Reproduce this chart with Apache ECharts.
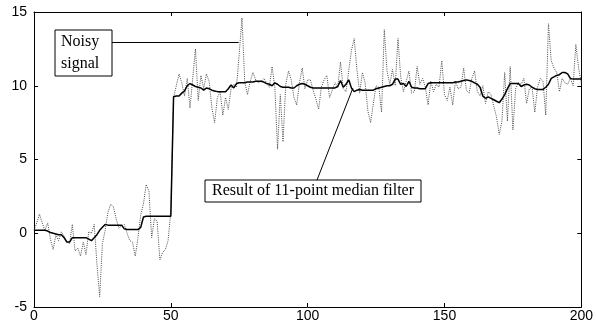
<!DOCTYPE html>
<html><head><meta charset="utf-8">
<script src="https://cdn.jsdelivr.net/npm/echarts@6/dist/echarts.min.js"></script>
<style>html,body{margin:0;padding:0;background:#fff}#c{width:596px;height:324px}</style>
</head><body><div id="c"></div>
<script>
// Noisy signal, sample index 0..200
const noisy = [
  0.2,0.7,1.3,0.7,0.2,0.7,-0.4,-1.1,-0.1,-0.5,
  0.1,-0.2,-0.55,-0.7,0.6,-1.2,-1.0,-1.55,-0.6,-1.45,
  0.1,0.0,0.6,-2.1,-4.3,-0.7,0.2,1.4,1.95,1.8,
  1.0,0.35,0.5,0.6,0.0,-0.5,-0.6,-1.55,-0.3,1.25,
  2.0,3.3,2.85,-0.3,1.0,0.8,-1.8,-1.3,-1.1,-0.5,1.5,
  9.2,10.0,10.8,10.2,9.3,10.5,8.5,10.5,12.5,9.0,
  10.7,9.8,10.8,10.3,8.5,7.5,9.2,9.6,8.0,9.2,
  8.4,9.8,10.1,9.9,12.2,14.6,10.3,9.4,10.3,10.9,
  10.4,10.2,10.3,10.5,10.2,9.9,11.3,9.9,5.7,9.4,
  6.2,10.1,11.0,10.4,9.2,8.7,10.2,11.2,9.8,10.4,
  10.4,9.7,9.1,8.4,9.9,10.4,10.7,9.2,9.7,10.2,
  9.9,11.6,9.8,9.6,11.0,12.4,13.2,11.1,9.5,10.9,
  10.2,8.3,7.5,8.8,10.0,9.9,8.2,13.8,11.0,10.1,
  11.1,10.0,13.2,10.6,9.6,10.3,11.0,9.5,9.6,11.3,
  10.1,10.5,9.9,8.7,10.3,9.6,10.1,9.9,11.7,9.4,
  9.0,9.9,8.7,10.3,9.8,9.9,11.2,9.7,9.5,10.5,
  11.0,9.6,9.3,10.0,8.8,9.6,9.4,8.6,7.9,6.7,
  7.6,10.9,7.6,11.3,7.0,9.8,10.2,10.1,10.5,8.8,
  9.8,9.9,8.2,9.9,10.5,10.3,8.0,14.2,11.7,11.2,
  10.9,9.6,10.5,10.2,10.1,10.5,10.0,12.8,11.2,10.2
];
// Result of 11-point median filter, sample index 0..200
const median = [
  0.2,0.2,0.2,0.2,0.2,0.15,0.05,0.0,-0.05,-0.1,
  -0.1,-0.3,-0.6,-0.6,-0.3,-0.3,-0.3,-0.3,-0.3,-0.3,
  -0.4,-0.5,-0.3,-0.1,0.2,0.4,0.6,0.55,0.55,0.55,
  0.55,0.55,0.55,0.3,0.25,0.25,0.25,0.25,0.25,0.4,
  1.1,1.15,1.15,1.15,1.15,1.15,1.15,1.15,1.15,1.15,1.15,
  9.25,9.3,9.3,9.5,9.65,10.0,10.15,10.05,9.95,9.9,
  9.85,9.7,9.85,9.8,9.7,9.65,9.6,9.6,9.6,9.6,
  9.8,10.05,9.85,10.15,10.2,10.2,10.2,10.25,10.25,10.25,
  10.3,10.3,10.3,10.25,10.15,10.1,10.0,10.2,10.1,9.95,
  9.9,9.9,9.9,9.85,9.85,10.0,10.1,10.15,10.1,10.0,
  9.9,9.85,9.85,9.85,9.85,9.85,9.85,9.85,9.85,9.85,
  9.95,10.35,9.9,10.1,10.4,9.85,9.6,9.7,9.75,9.7,
  9.7,9.7,9.7,9.7,9.8,9.85,9.9,9.95,10.0,10.0,
  10.1,10.45,10.45,10.1,10.15,9.95,10.3,9.9,9.85,9.85,
  9.8,9.8,9.8,10.15,10.2,10.2,10.2,10.2,10.2,10.2,
  10.2,10.2,10.2,10.25,10.25,10.3,10.35,10.4,10.35,10.3,
  10.2,10.1,9.9,9.3,9.15,9.25,9.15,9.05,8.95,8.85,
  9.1,9.4,9.8,10.15,10.15,10.15,10.15,9.95,10.05,10.1,
  10.05,9.9,9.8,9.75,9.75,9.75,9.9,10.1,10.5,10.6,
  10.7,10.75,10.9,10.9,10.8,10.5,10.45,10.45,10.45,10.45
];
const xRange = [0, 200];
const xStep = 50;
const yRange = [-5, 15];
const yStep = 5;
const noisyText = 'Noisy\nsignal';
const medianText = 'Result of 11-point median filter';
// leader line anchors (data coordinates)
const noisyLeader = [[28.3, 12.95], [74.8, 12.95]];
const medianLeader = [[103.4, 3.6], [116.5, 9.83]];

const chart = echarts.init(document.getElementById('c'), null, {renderer: 'canvas'});
const toPairs = arr => arr.map((v, i) => [i, v]);
const axisFont = {color: '#000', fontFamily: 'Liberation Sans, Arial, sans-serif', fontSize: 14};
function xAx(pos, showLabel) {
  return {
    type: 'value', min: xRange[0], max: xRange[1], interval: xStep, position: pos,
    axisLine: {show: true, onZero: false, lineStyle: {color: '#000', width: 1}},
    axisTick: {show: true, inside: true, length: 4, lineStyle: {color: '#000'}},
    axisLabel: Object.assign({show: showLabel, margin: 2}, axisFont),
    splitLine: {show: false}
  };
}
function yAx(pos, showLabel) {
  return {
    type: 'value', min: yRange[0], max: yRange[1], interval: yStep, position: pos,
    axisLine: {show: true, onZero: false, lineStyle: {color: '#000', width: 1}},
    axisTick: {show: true, inside: true, length: 4, lineStyle: {color: '#000'}},
    axisLabel: Object.assign({show: showLabel, margin: 7}, axisFont),
    splitLine: {show: false}
  };
}
const serif = 'Liberation Serif, Times New Roman, serif';
chart.setOption({
  animation: false,
  backgroundColor: '#fff',
  grid: {left: 34, right: 11, top: 12, bottom: 17, containLabel: false},
  xAxis: [xAx('bottom', true), xAx('top', false)],
  yAxis: [yAx('left', true), yAx('right', false)],
  series: [
    {
      name: 'Noisy signal', type: 'line', data: toPairs(noisy),
      xAxisIndex: 0, yAxisIndex: 0,
      showSymbol: false, silent: true,
      lineStyle: {color: '#4a4a4a', width: 1, type: [1, 1.2]}
    },
    {
      name: 'Median', type: 'line', data: toPairs(median),
      xAxisIndex: 0, yAxisIndex: 0,
      showSymbol: false, silent: true, z: 3,
      lineStyle: {color: '#000', width: 1.5},
      markLine: {
        silent: true, symbol: ['none', 'none'],
        label: {show: false},
        lineStyle: {color: '#000', width: 1, type: 'solid'},
        data: [
          [{coord: noisyLeader[0]}, {coord: noisyLeader[1]}],
          [{coord: medianLeader[0]}, {coord: medianLeader[1]}]
        ]
      }
    }
  ],
  graphic: [
    {type: 'rect', shape: {x: 55, y: 30, width: 57, height: 46}, style: {fill: '#fff', stroke: '#000', lineWidth: 1}, z: 10},
    {type: 'text', x: 61, y: 31, style: {text: noisyText, font: '16px ' + serif, fill: '#000', lineHeight: 22, verticalAlign: 'top'}, z: 11},
    {type: 'rect', shape: {x: 205, y: 180, width: 216, height: 22}, style: {fill: '#fff', stroke: '#000', lineWidth: 1}, z: 10},
    {type: 'text', x: 313, y: 191, style: {text: medianText, font: '16px ' + serif, fill: '#000', align: 'center', verticalAlign: 'middle'}, z: 11}
  ]
});
</script>
</body></html>
